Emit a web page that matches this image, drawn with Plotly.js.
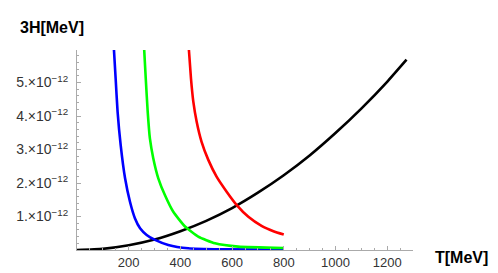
<!DOCTYPE html>
<html>
<head>
<meta charset="utf-8">
<script src="https://cdn.plot.ly/plotly-3.0.1.min.js"></script>
<style>
  html, body { margin: 0; padding: 0; background: #fff; }
  #grafik { width: 498px; height: 273px; }
</style>
</head>
<body>
<div id="grafik"></div>
<script>
/* ==========================================================
   DATA (y in units of 1e-12 MeV)
========================================================== */
const blueT = [143, 149.5, 157, 169, 186, 205, 224, 244, 269.5, 302, 353, 430, 560, 800];
const blueY = [5.97, 5.12, 4.13, 3.13, 2.14, 1.44, 0.95, 0.65, 0.45, 0.30, 0.15, 0.05, 0.02, 0.01];

const greenT = [260, 266, 273.5, 282, 295, 314.5, 340, 372.5, 418, 469, 534, 624, 800];
const greenY = [5.97, 5.12, 4.13, 3.33, 2.74, 2.14, 1.64, 1.14, 0.70, 0.40, 0.20, 0.10, 0.06];

const redT = [433, 441, 450, 463, 482, 508, 540, 579, 618, 663, 714, 760, 800];
const redY = [5.97, 5.12, 4.43, 3.83, 3.23, 2.69, 2.19, 1.74, 1.34, 0.99, 0.72, 0.56, 0.46];

const blackT = [0, 100, 200, 300, 400, 500, 600, 700, 800, 900, 1000, 1100, 1200, 1275];
const blackY = [0, 0.035, 0.14, 0.31, 0.56, 0.87, 1.25, 1.71, 2.23, 2.82, 3.49, 4.22, 5.02, 5.68];

const yTickVals = [1, 2, 3, 4, 5];
const yTickText = yTickVals.map(v => v + ".×10<sup>−12</sup>");
const xTickVals = [200, 400, 600, 800, 1000, 1200];

const skala = 1e-12;

function buatKurva(xs, ys, warna) {
  return {
    x: xs,
    y: ys.map(v => v * skala),
    mode: "lines",
    line: { color: warna, width: 2.6, shape: "spline", smoothing: 0.5 },
    hoverinfo: "skip",
    showlegend: false
  };
}

const traces = [
  buatKurva(blackT, blackY, "#000000"),
  buatKurva(blueT, blueY, "#0000ff"),
  buatKurva(greenT, greenY, "#00ff00"),
  buatKurva(redT, redY, "#ff0000")
];

const fontTickX = { family: "Liberation Sans, Arial, sans-serif", size: 13, color: "#333" };
const fontTickY = { family: "Liberation Sans, Arial, sans-serif", size: 14, color: "#333" };
const fontJudul = { family: "Liberation Sans, Arial, sans-serif", size: 16, color: "#000" };

const layout = {
  width: 498,
  height: 273,
  margin: { l: 77, r: 85, t: 50, b: 23 },
  paper_bgcolor: "#fff",
  plot_bgcolor: "#fff",
  xaxis: {
    range: [0, 1300],
    showgrid: false,
    zeroline: false,
    showline: true,
    linecolor: "#aaa",
    linewidth: 1,
    ticks: "inside",
    ticklen: 4,
    tickcolor: "#aaa",
    tickvals: xTickVals,
    ticktext: xTickVals.map(String),
    tickfont: fontTickX,
    minor: { dtick: 50, ticks: "inside", ticklen: 2, tickcolor: "#aaa" }
  },
  yaxis: {
    range: [0, 5.97 * skala],
    showgrid: false,
    zeroline: false,
    showline: true,
    linecolor: "#aaa",
    linewidth: 1,
    ticks: "inside",
    ticklen: 4,
    tickcolor: "#aaa",
    tickvals: yTickVals.map(v => v * skala),
    ticktext: yTickText,
    tickfont: fontTickY,
    ticklabelstandoff: 5,
    minor: { dtick: 0.2 * skala, ticks: "inside", ticklen: 2, tickcolor: "#aaa" }
  },
  annotations: [
    {
      text: "<b>3H[MeV]</b>",
      xref: "paper", yref: "paper",
      x: 0, y: 1.0, xanchor: "right", yanchor: "bottom", xshift: 9, yshift: 12,
      showarrow: false,
      font: fontJudul
    },
    {
      text: "<b>T[MeV]</b>",
      xref: "paper", yref: "paper",
      x: 1.0, y: 0, xanchor: "left", yanchor: "middle", xshift: 20, yshift: -7,
      showarrow: false,
      font: fontJudul
    }
  ]
};

Plotly.newPlot("grafik", traces, layout, { displayModeBar: false, staticPlot: true });
</script>
</body>
</html>
